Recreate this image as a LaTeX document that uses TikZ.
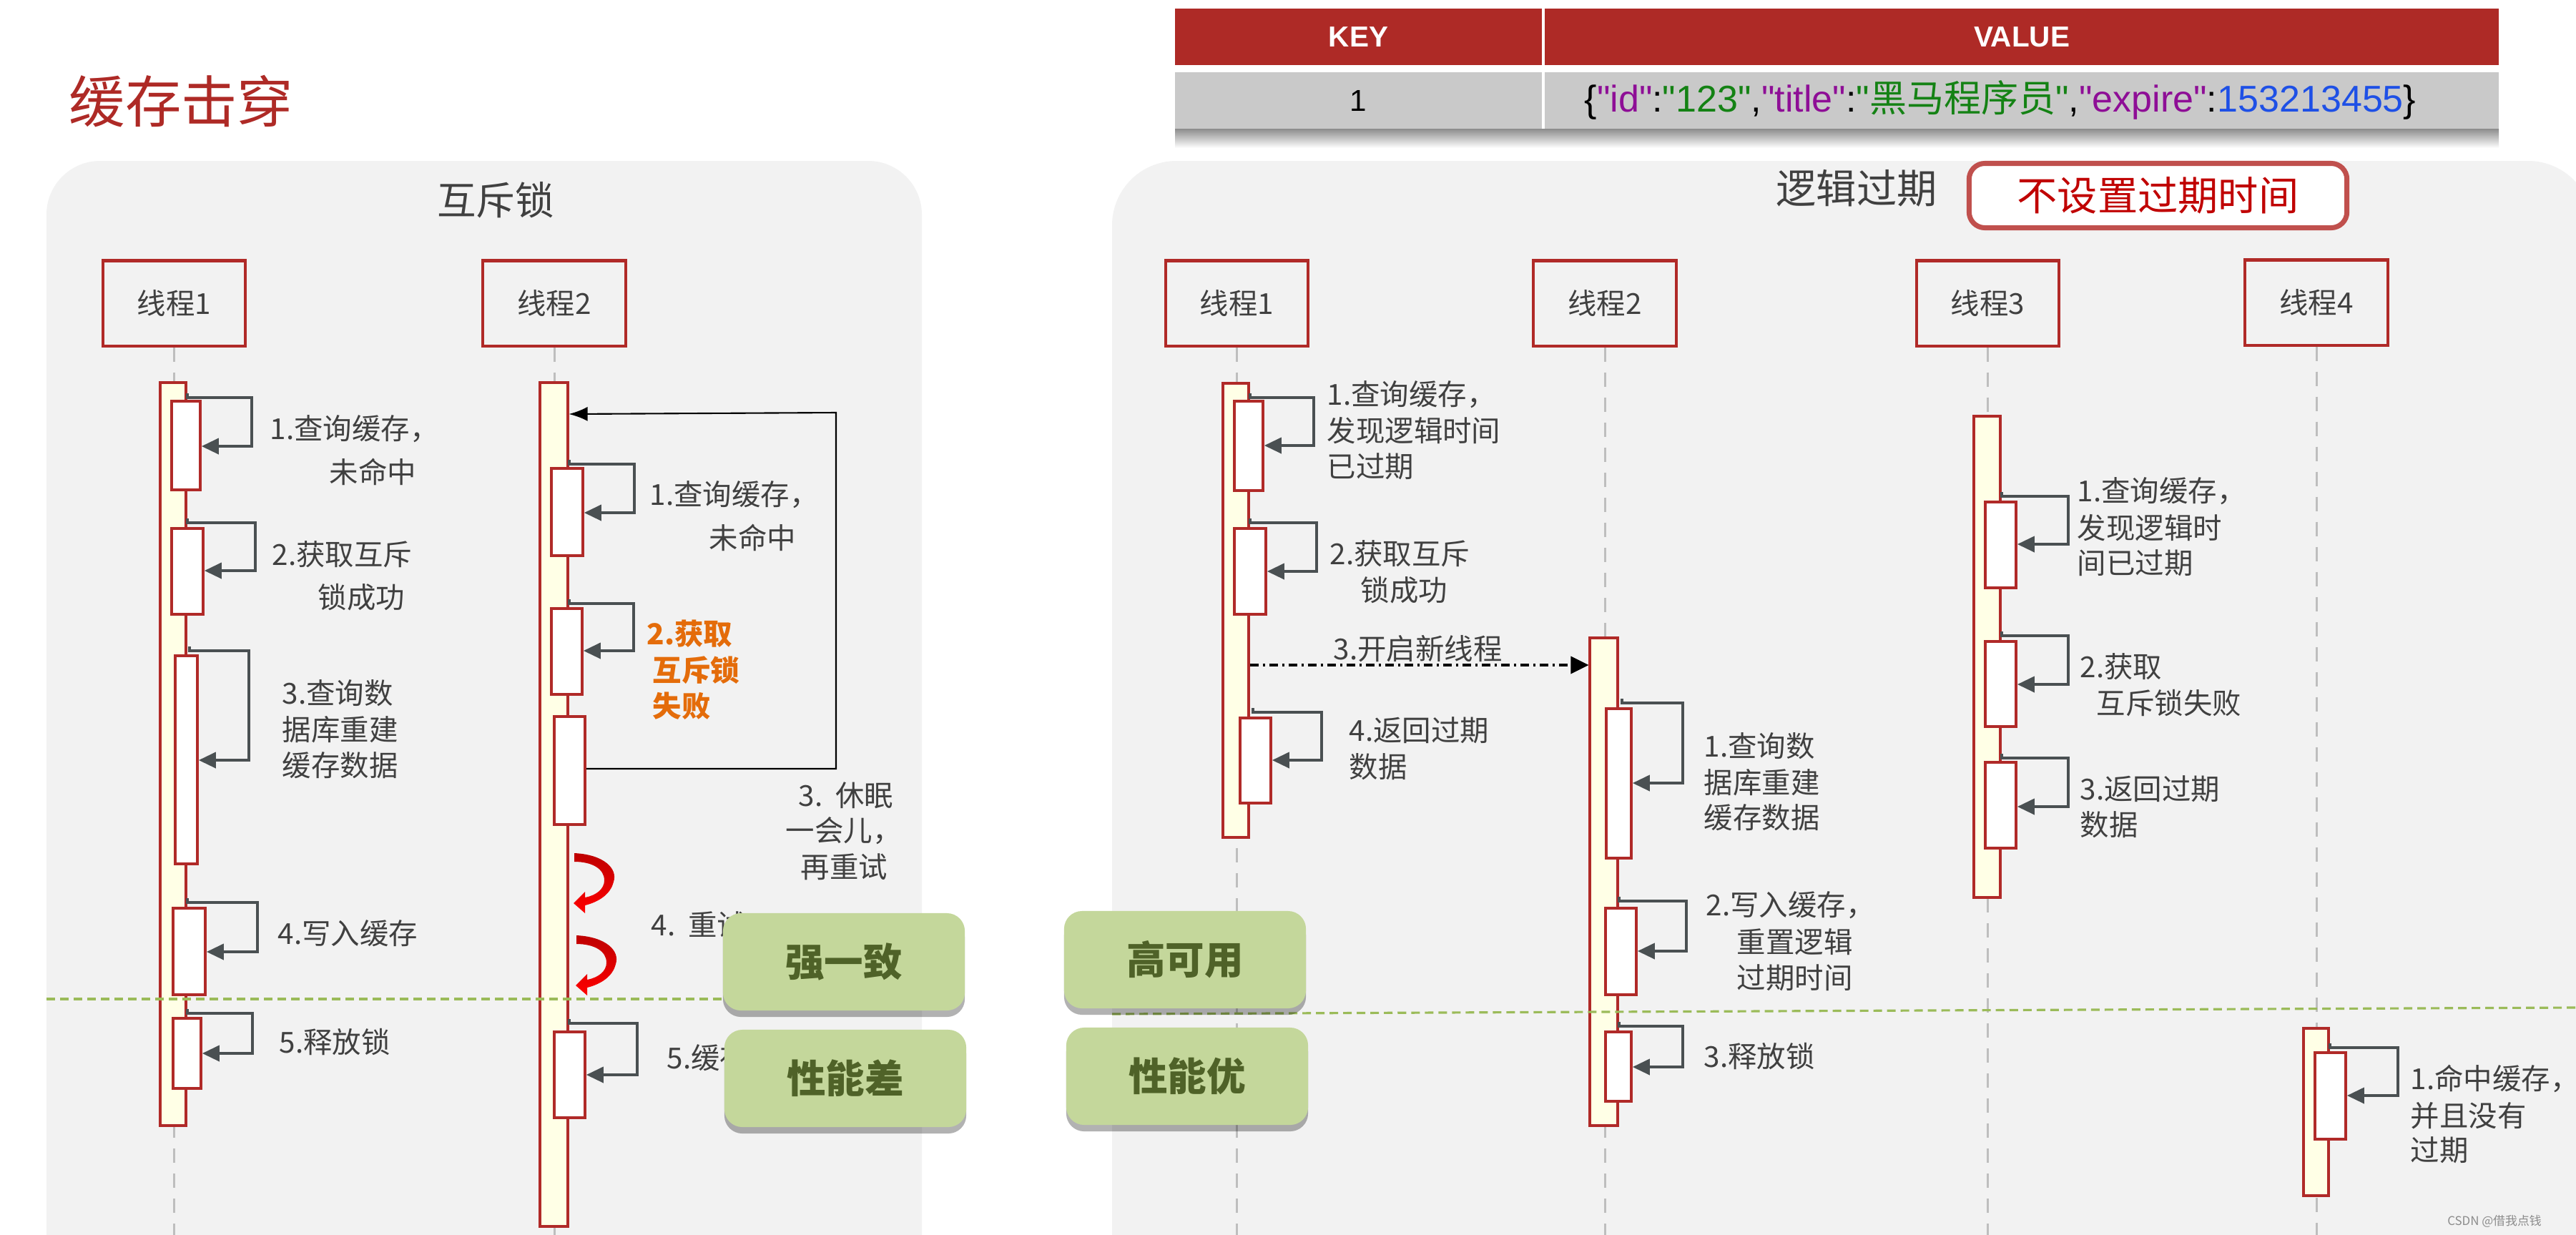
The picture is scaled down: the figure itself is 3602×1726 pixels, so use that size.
\documentclass[tikz,border=0pt]{standalone}
\usepackage{fontspec}
\setmainfont{Liberation Sans}[Ligatures=TeXOff]
\newfontfamily\cjk{Noto Sans CJK SC}
\usetikzlibrary{arrows.meta,fit,shadows}
\definecolor{boxred}{RGB}{176,42,40}
\definecolor{hdrred}{RGB}{174,42,38}
\definecolor{rowgray}{RGB}{201,201,201}
\definecolor{panelfill}{RGB}{242,242,242}
\definecolor{baryel}{RGB}{255,255,230}
\definecolor{arrgray}{RGB}{74,80,82}
\definecolor{txtgray}{RGB}{64,64,64}
\definecolor{lifegray}{RGB}{190,190,190}
\definecolor{orng}{RGB}{228,108,10}
\definecolor{gfill}{RGB}{196,215,155}
\definecolor{gtext}{RGB}{79,98,40}
\definecolor{divgreen}{RGB}{155,187,89}
\definecolor{titlered}{RGB}{174,42,38}
\definecolor{lred}{RGB}{192,80,77}
\definecolor{dkred}{RGB}{192,0,0}
\definecolor{crtop}{RGB}{190,0,0}
\definecolor{crbot}{RGB}{255,0,0}
\definecolor{jpur}{RGB}{142,14,150}
\definecolor{jgrn}{RGB}{20,130,20}
\definecolor{jblu}{RGB}{30,80,230}
\begin{document}
\begin{tikzpicture}[x=0.01cm,y=-0.01cm,
 thd/.style={draw=boxred, line width=1.15pt, minimum width=1.99cm, minimum height=1.19cm, inner sep=0pt, font=\cjk\fontsize{11.5}{13}\selectfont, text=txtgray},
 bar/.style={draw=boxred, fill=baryel, line width=0.9pt, inner sep=0pt},
 act/.style={draw=boxred, fill=white, line width=1.05pt, inner sep=0pt},
 selfarr/.style={draw=arrgray, line width=1.1pt, -{Triangle[length=0.24cm,width=0.22cm]}},
 lbl/.style={font=\cjk\fontsize{11.5}{13}\selectfont, text=txtgray, inner sep=0pt, anchor=west},
 orl/.style={lbl, text=orng, font=\cjk\bfseries\fontsize{11.5}{13}\selectfont},
 life/.style={draw=lifegray, line width=0.85pt, dash pattern=on 0.2cm off 0.15cm},
 divider/.style={draw=divgreen, line width=0.9pt, dash pattern=on 0.12cm off 0.07cm},
 gbox/.style={fill=gfill, rounded corners=0.25cm, minimum width=3.38cm, minimum height=1.36cm, inner sep=0pt, font=\cjk\bfseries\fontsize{15.5}{18}\selectfont, text=gtext, drop shadow={shadow xshift=0cm, shadow yshift=-0.09cm, opacity=0.3, fill=black}},
 hcell/.style={fill=hdrred, minimum height=0.79cm, inner sep=0pt, text=white, font=\bfseries\fontsize{11.5}{13}\selectfont},
 rcell/.style={fill=rowgray, minimum height=0.79cm, inner sep=0pt, font=\fontsize{12}{14}\selectfont},
 crescent/.style={top color=crtop, bottom color=crbot, draw=none}
]
\useasboundingbox (0,0) rectangle (3602,1726);
\clip (0,0) rectangle (3602,1726);
\fill[white] (0,0) rectangle (3602,1726);

% panels
\fill[panelfill, rounded corners=0.75cm] (65,1850) -- (65,225) -- (1289,225) -- (1289,1850) -- cycle;
\fill[panelfill, rounded corners=0.9cm] (1555,1850) -- (1555,225) -- (3625,225) -- (3625,1850) -- cycle;

% title
\node[font=\cjk\fontsize{22.3}{25}\selectfont, text=titlered, anchor=west, inner sep=0pt] (title) at (96,142) {缓存击穿};

% table
\shade[top color=black!45, bottom color=white] (1643,180) rectangle (3494,207);
\node[hcell, minimum width=5.13cm] (kcell) at (1899.5,51.5) {KEY};
\node[hcell, minimum width=13.34cm] (vcell) at (2827,51.5) {VALUE};
\node[rcell, minimum width=5.13cm] (k1) at (1899.5,140.5) {1};
\node[rcell, minimum width=13.34cm] (v1) at (2827,140.5) {};
\node[inner sep=0pt, font=\fontsize{14.8}{17}\selectfont] (val) at (2797,140) {\{{\color{jpur}"id"}:{\color{jgrn}"123"},{\color{jpur}"title"}:{\color{jgrn}"{\cjk 黑马程序员}"},{\color{jpur}"expire"}:{\color{jblu}153213455}\}};

% panel headings
\node[font=\cjk\fontsize{15.5}{18}\selectfont, text=txtgray, inner sep=0pt] (hmutex) at (693,280) {互斥锁};
\node[font=\cjk\fontsize{16}{18}\selectfont, text=txtgray, inner sep=0pt] (hlogic) at (2596,263) {逻辑过期};
\node[draw=lred, line width=2pt, fill=white, rounded corners=0.22cm, minimum width=5.28cm, minimum height=0.9cm, inner sep=0pt, font=\cjk\fontsize{16}{18}\selectfont, text=dkred] (nsz) at (3017.5,273.5) {不设置过期时间};

% thread headers
\node[thd] (h1) at (243.5,424) {线程1};
\node[thd] (h2) at (775,424) {线程2};
\node[thd] (r1) at (1729.5,424) {线程1};
\node[thd] (r2) at (2244,424) {线程2};
\node[thd] (r3) at (2779.5,424) {线程3};
\node[thd] (r4) at (3239,423) {线程4};

% lifelines
\foreach \h in {h1,h2,r1,r2,r3,r4} {
  \draw[life] (\h.south) -- (\h.south |- 0,1730);
}

% ===== left: mutex =====
\node[bar, fit={(224,535) (260,1574)}] (b1) {};
\node[bar, fit={(755,535) (794,1715)}] (b2) {};

\node[act, fit={(240,561) (280,685)}] (a11) {};
\node[act, fit={(240,739) (284,859)}] (a12) {};
\node[act, fit={(245,917) (276,1208)}] (a13) {};
\node[act, fit={(242,1270) (287,1391)}] (a14) {};
\node[act, fit={(242,1424) (281,1522)}] (a15) {};

\draw[selfarr] (b1.east |- 0,550) -- (b1.east |- 0,556) -- (352,556) -- (352,624) -- (a11.east |- 0,624);
\draw[selfarr] (b1.east |- 0,725) -- (b1.east |- 0,731) -- (357,731) -- (357,798) -- (a12.east |- 0,798);
\draw[selfarr] (265,904) -- (265,910) -- (348,910) -- (348,1063) -- (a13.east |- 0,1063);
\draw[selfarr] (b1.east |- 0,1256) -- (b1.east |- 0,1262) -- (360,1262) -- (360,1331) -- (a14.east |- 0,1331);
\draw[selfarr] (b1.east |- 0,1411) -- (b1.east |- 0,1417) -- (353,1417) -- (353,1473) -- (a15.east |- 0,1473);

\node[lbl] (t11a) at (377,600) {1.查询缓存，};
\node[lbl] (t11b) at (460,660) {未命中};
\node[lbl] (t12a) at (380,775) {2.获取互斥};
\node[lbl] (t12b) at (444,835) {锁成功};
\node[lbl] (t13a) at (394,969) {3.查询数};
\node[lbl] (t13b) at (394,1020) {据库重建};
\node[lbl] (t13c) at (394,1070) {缓存数据};
\node[lbl] (t14) at (388,1305) {4.写入缓存};
\node[lbl] (t15) at (390,1457) {5.释放锁};

\node[act, fit={(771,655) (815,777)}] (a21) {};
\node[act, fit={(771,851) (814,971)}] (a22) {};
\node[act, fit={(775,1002) (818,1153)}] (a23) {};
\node[act, fit={(775,1443) (818,1563)}] (a25) {};

\draw[selfarr] (b2.east |- 0,643) -- (b2.east |- 0,649) -- (887,649) -- (887,717) -- (a21.east |- 0,717);
\draw[selfarr] (b2.east |- 0,838) -- (b2.east |- 0,844) -- (886,844) -- (886,910) -- (a22.east |- 0,910);
\draw[selfarr] (b2.east |- 0,1425) -- (b2.east |- 0,1431) -- (891,1431) -- (891,1503) -- (a25.east |- 0,1503);
\draw[black, line width=0.6pt, -{Latex[length=0.26cm,width=0.2cm]}] (a23.east |- 0,1075) -- (1169,1075) -- (1169,577) -- (b2.east |- 0,579);

\node[lbl] (t21a) at (908,692) {1.查询缓存，};
\node[lbl] (t21b) at (991,752) {未命中};
\node[orl] (t22a) at (904,886) {2.获取};
\node[orl] (t22b) at (912,937) {互斥锁};
\node[orl] (t22c) at (912,987) {失败};
\node[lbl, anchor=east] (t23a) at (1250,1112) {3.\ \ 休眠};
\node[lbl] (t23b) at (1098,1162) {一会儿，};
\node[lbl] (t23c) at (1119,1212) {再重试};
\node[lbl] (t24) at (910,1293) {4.\ \ 重试};
\node[lbl] (t25) at (932,1479) {5.缓存};

% red curved arrows
\shade[crescent] (803,1193) .. controls (845,1195) and (864,1215) .. (858,1233) .. controls (854,1250) and (838,1261) .. (818,1266) -- (818,1277) -- (802,1263) -- (818,1247) -- (818,1255) .. controls (834,1252) and (845,1243) .. (845,1231) .. controls (845,1215) and (828,1205) .. (803,1205) -- cycle;
\begin{scope}[shift={(3,115)}]
\shade[crescent] (803,1193) .. controls (845,1195) and (864,1215) .. (858,1233) .. controls (854,1250) and (838,1261) .. (818,1266) -- (818,1277) -- (802,1263) -- (818,1247) -- (818,1255) .. controls (834,1252) and (845,1243) .. (845,1231) .. controls (845,1215) and (828,1205) .. (803,1205) -- cycle;
\end{scope}

% ===== right: logical expiry =====
\node[bar, fit={(1710,536) (1746,1171)}] (rb1) {};
\node[bar, fit={(2223,892) (2262,1574)}] (rb2) {};
\node[bar, fit={(2760,582) (2797,1255)}] (rb3) {};
\node[bar, fit={(3221,1438) (3256,1672)}] (rb4) {};

\node[act, fit={(1726,561) (1766,686)}] (ra11) {};
\node[act, fit={(1726,739) (1770,859)}] (ra12) {};
\node[act, fit={(1734,1004) (1777,1123)}] (ra14) {};
\node[act, fit={(2246,991) (2281,1200)}] (ra21) {};
\node[act, fit={(2245,1270) (2288,1391)}] (ra22) {};
\node[act, fit={(2245,1443) (2281,1540)}] (ra23) {};
\node[act, fit={(2776,702) (2819,822)}] (ra31) {};
\node[act, fit={(2776,897) (2819,1016)}] (ra32) {};
\node[act, fit={(2776,1066) (2819,1186)}] (ra33) {};
\node[act, fit={(3237,1472) (3280,1593)}] (ra41) {};

\draw[selfarr] (rb1.east |- 0,550) -- (rb1.east |- 0,556) -- (1837,556) -- (1837,623) -- (ra11.east |- 0,623);
\draw[selfarr] (rb1.east |- 0,725) -- (rb1.east |- 0,731) -- (1841,731) -- (1841,799) -- (ra12.east |- 0,799);
\draw[selfarr] (1752,990) -- (1752,996) -- (1848,996) -- (1848,1063) -- (ra14.east |- 0,1063);
\draw[selfarr] (2268,977) -- (2268,983) -- (2353,983) -- (2353,1095) -- (ra21.east |- 0,1095);
\draw[selfarr] (rb2.east |- 0,1254) -- (rb2.east |- 0,1260) -- (2358,1260) -- (2358,1330) -- (ra22.east |- 0,1330);
\draw[selfarr] (rb2.east |- 0,1429) -- (rb2.east |- 0,1435) -- (2353,1435) -- (2353,1492) -- (ra23.east |- 0,1492);
\draw[selfarr] (rb3.east |- 0,688) -- (rb3.east |- 0,694) -- (2892,694) -- (2892,761) -- (ra31.east |- 0,761);
\draw[selfarr] (rb3.east |- 0,883) -- (rb3.east |- 0,889) -- (2892,889) -- (2892,957) -- (ra32.east |- 0,957);
\draw[selfarr] (rb3.east |- 0,1054) -- (rb3.east |- 0,1060) -- (2892,1060) -- (2892,1128) -- (ra33.east |- 0,1128);
\draw[selfarr] (rb4.east |- 0,1459) -- (rb4.east |- 0,1465) -- (3353,1465) -- (3353,1532) -- (ra41.east |- 0,1532);

\draw[black, line width=1pt, dash pattern=on 0.12cm off 0.06cm on 0.03cm off 0.06cm, -{Triangle[length=0.25cm,width=0.24cm]}] (rb1.east |- 0,930) -- (rb2.west |- 0,930);

\node[lbl] (s11a) at (1855,552) {1.查询缓存，};
\node[lbl] (s11b) at (1855,602) {发现逻辑时间};
\node[lbl] (s11c) at (1855,652) {已过期};
\node[lbl] (s12a) at (1859,774) {2.获取互斥};
\node[lbl] (s12b) at (1902,825) {锁成功};
\node[lbl] (s13) at (1864,907) {3.开启新线程};
\node[lbl] (s14a) at (1886,1021) {4.返回过期};
\node[lbl] (s14b) at (1886,1072) {数据};
\node[lbl] (s21a) at (2382,1043) {1.查询数};
\node[lbl] (s21b) at (2382,1094) {据库重建};
\node[lbl] (s21c) at (2382,1143) {缓存数据};
\node[lbl] (s22a) at (2385,1266) {2.写入缓存，};
\node[lbl] (s22b) at (2428,1317) {重置逻辑};
\node[lbl] (s22c) at (2428,1367) {过期时间};
\node[lbl] (s23) at (2382,1477) {3.释放锁};
\node[lbl] (s31a) at (2904,687) {1.查询缓存，};
\node[lbl] (s31b) at (2904,738) {发现逻辑时};
\node[lbl] (s31c) at (2904,787) {间已过期};
\node[lbl] (s32a) at (2908,932) {2.获取};
\node[lbl] (s32b) at (2931,983) {互斥锁失败};
\node[lbl] (s33a) at (2908,1103) {3.返回过期};
\node[lbl] (s33b) at (2908,1153) {数据};
\node[lbl] (s41a) at (3370,1508) {1.命中缓存，};
\node[lbl] (s41b) at (3370,1560) {并且没有};
\node[lbl] (s41c) at (3370,1608) {过期};

% dividers
\coordinate (dl1) at (65,1397);
\coordinate (dl2) at (1011,1397);
\coordinate (dr1) at (1555,1418);
\coordinate (dr2) at (3602,1409);
\draw[divider] (dl1) -- (dl2);
\draw[divider] (dr1) -- (dr2);

% green boxes
\node[gbox] (g1) at (1180,1345) {强一致};
\node[gbox] (g2) at (1182,1508) {性能差};
\node[gbox] (g3) at (1657,1342) {高可用};
\node[gbox] (g4) at (1660,1505) {性能优};

% watermark
\node[font=\cjk\fontsize{4.8}{6}\selectfont, text=black!45, inner sep=0pt] (wm) at (3488,1708) {CSDN @借我点钱};
\end{tikzpicture}
\end{document}
